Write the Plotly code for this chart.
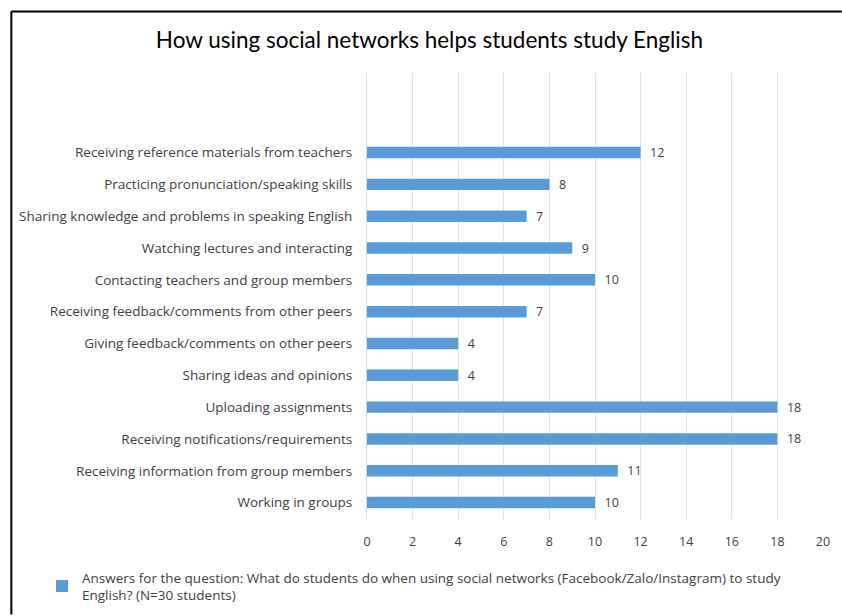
import plotly.graph_objects as go

categories = [
    "Working in groups",
    "Receiving information from group members",
    "Receiving notifications/requirements",
    "Uploading assignments",
    "Sharing ideas and opinions",
    "Giving feedback/comments on other peers",
    "Receiving feedback/comments from other peers",
    "Contacting teachers and group members",
    "Watching lectures and interacting",
    "Sharing knowledge and problems in speaking English",
    "Practicing pronunciation/speaking skills",
    "Receiving reference materials from teachers",
]
values = [10, 11, 18, 18, 4, 4, 7, 10, 9, 7, 8, 12]
x_ticks = list(range(0, 21, 2))
series_name = ("Answers for the question: What do students do when using social networks (Facebook/Zalo/Instagram) to study"
               "<br>English? (N=30 students)")
title_text = "How using social networks helps students study English"

FONT = "Open Sans, Lato, sans-serif"
TFONT = "Lato, Open Sans, sans-serif"

TOP, BOT = 73, 523
PH = BOT - TOP
L, R = 367, 826
PW = R - L

fig = go.Figure()
fig.add_trace(go.Bar(
    y=categories, x=values, orientation="h",
    name=series_name,
    marker=dict(color="#5B9BD5", line=dict(width=0)),
    text=values, texttemplate="  %{text}", textposition="outside", constraintext="none",
    textfont=dict(family=FONT, size=12.5, color="#404040"),
    cliponaxis=False,
    showlegend=True,
))

fig.update_layout(
    width=842, height=616,
    margin=dict(l=L, r=842 - R, t=TOP, b=616 - BOT),
    paper_bgcolor="white", plot_bgcolor="white",
    bargap=0.64,
    title=dict(text=title_text, x=0.51, xref="container", y=1 - 40/616, yref="container",
               xanchor="center", yanchor="middle",
               font=dict(family=TFONT, size=22.5, color="#000000")),
    xaxis=dict(range=[0, 20], tickvals=x_ticks, showgrid=True, gridcolor="#E3E3E3", gridwidth=1,
               zeroline=False, showline=False, ticks="", ticklabelstandoff=14,
               tickfont=dict(family=FONT, size=12.5, color="#404040")),
    yaxis=dict(type="category", categoryorder="array", categoryarray=categories,
               range=[-0.5, 13.5], showgrid=False, zeroline=False,
               showline=True, linecolor="#D9D9D9", ticks="", ticklabelstandoff=11,
               tickfont=dict(family=FONT, size=13.5, color="#404040")),
    legend=dict(xref="container", yref="container", x=42/842, y=1 - 562/616,
                xanchor="left", yanchor="top", orientation="h",
                font=dict(family=FONT, size=13.5, color="#404040"),
                itemwidth=30, bgcolor="rgba(0,0,0,0)"),
    shapes=[
        dict(type="line", xref="paper", yref="paper",
             x0=(9 - L)/PW, x1=(9 - L)/PW, y0=(BOT - 11)/PH, y1=(BOT - 620)/PH,
             line=dict(color="black", width=2)),
        dict(type="line", xref="paper", yref="paper",
             x0=(9 - L)/PW, x1=(845 - L)/PW, y0=(BOT - 11)/PH, y1=(BOT - 11)/PH,
             line=dict(color="black", width=2)),
    ],
)

fig.write_html("out.html")
